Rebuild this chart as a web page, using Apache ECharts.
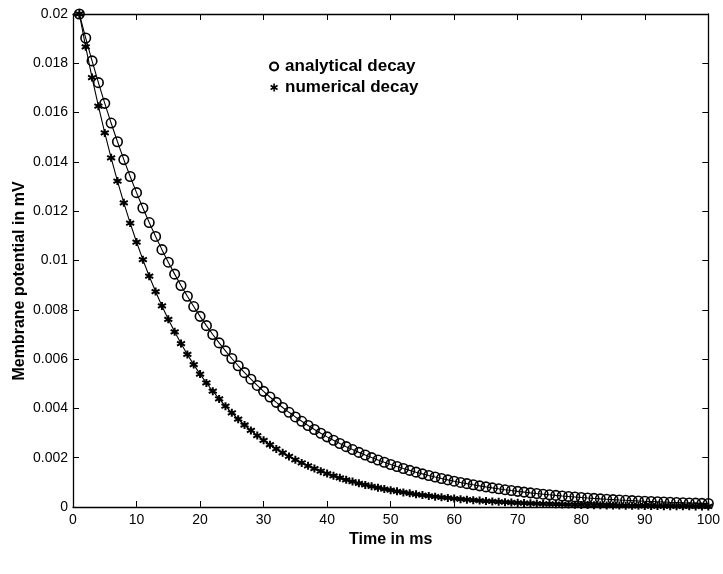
<!DOCTYPE html>
<html>
<head>
<meta charset="utf-8">
<script src="https://cdn.jsdelivr.net/npm/echarts@6/dist/echarts.min.js"></script>
<style>
  html, body { margin: 0; padding: 0; background: #fff; }
  #chart { width: 723px; height: 574px; }
</style>
</head>
<body>
<div id="chart"></div>
<script>
// Time axis, 1..100 ms
const timeMs = Array.from({ length: 100 }, (_, i) => i + 1);

// Membrane potential (mV), closed-form decay
const analytical = [
  0.020000, 0.019025, 0.018097, 0.017214, 0.016375, 0.015576, 0.014816, 0.014093, 0.013406, 0.012752,
  0.012131, 0.011539, 0.010976, 0.010441, 0.009932, 0.009447, 0.008987, 0.008548, 0.008131, 0.007735,
  0.007358, 0.006999, 0.006657, 0.006333, 0.006024, 0.005730, 0.005451, 0.005185, 0.004932, 0.004691,
  0.004463, 0.004245, 0.004038, 0.003841, 0.003654, 0.003476, 0.003306, 0.003145, 0.002991, 0.002845,
  0.002707, 0.002575, 0.002449, 0.002330, 0.002216, 0.002108, 0.002005, 0.001907, 0.001814, 0.001726,
  0.001642, 0.001562, 0.001485, 0.001413, 0.001344, 0.001278, 0.001216, 0.001157, 0.001100, 0.001047,
  0.000996, 0.000947, 0.000901, 0.000857, 0.000815, 0.000775, 0.000738, 0.000702, 0.000667, 0.000635,
  0.000604, 0.000574, 0.000546, 0.000520, 0.000494, 0.000470, 0.000447, 0.000426, 0.000405, 0.000385,
  0.000366, 0.000348, 0.000331, 0.000315, 0.000300, 0.000285, 0.000271, 0.000258, 0.000245, 0.000233,
  0.000222, 0.000211, 0.000201, 0.000191, 0.000182, 0.000173, 0.000165, 0.000157, 0.000149, 0.000142
];

// Membrane potential (mV), step-by-step integration
const numerical = [
  0.020000, 0.018667, 0.017422, 0.016261, 0.015177, 0.014165, 0.013221, 0.012339, 0.011517, 0.010749,
  0.010033, 0.009364, 0.008739, 0.008157, 0.007613, 0.007105, 0.006632, 0.006190, 0.005777, 0.005392,
  0.005033, 0.004697, 0.004384, 0.004092, 0.003819, 0.003564, 0.003327, 0.003105, 0.002898, 0.002705,
  0.002525, 0.002356, 0.002199, 0.002053, 0.001916, 0.001788, 0.001669, 0.001558, 0.001454, 0.001357,
  0.001266, 0.001182, 0.001103, 0.001030, 0.000961, 0.000897, 0.000837, 0.000781, 0.000729, 0.000681,
  0.000635, 0.000593, 0.000553, 0.000516, 0.000482, 0.000450, 0.000420, 0.000392, 0.000366, 0.000341,
  0.000319, 0.000297, 0.000278, 0.000259, 0.000242, 0.000226, 0.000211, 0.000197, 0.000183, 0.000171,
  0.000160, 0.000149, 0.000139, 0.000130, 0.000121, 0.000113, 0.000106, 0.000098, 0.000092, 0.000086,
  0.000080, 0.000075, 0.000070, 0.000065, 0.000061, 0.000057, 0.000053, 0.000049, 0.000046, 0.000043,
  0.000040, 0.000038, 0.000035, 0.000033, 0.000031, 0.000029, 0.000027, 0.000025, 0.000023, 0.000022
];

const seriesNames = ['analytical decay', 'numerical decay'];
const xLabel = 'Time in ms';
const yLabel = 'Membrane potential in mV';

const FONT = 'Liberation Sans, Arial, Helvetica, sans-serif';
const STAR = 'path://M0,-5L0,5M-4.33,-2.5L4.33,2.5M-4.33,2.5L4.33,-2.5';

const chart = echarts.init(document.getElementById('chart'), null, { renderer: 'canvas' });

const baseAxis = {
  axisLine: { show: true, onZero: false, lineStyle: { color: '#000', width: 1.3 } },
  axisTick: { show: true, inside: true, length: 6, lineStyle: { color: '#000', width: 1 } },
  splitLine: { show: false }
};

const xBase = Object.assign({}, baseAxis, { type: 'value', min: 0, max: 100, interval: 10 });
const yBase = Object.assign({}, baseAxis, { type: 'value', min: 0, max: 0.02, interval: 0.002 });

chart.setOption({
  backgroundColor: '#fff',
  animation: false,
  grid: { left: 73, right: 11, top: 14, bottom: 67 },
  legend: {
    left: 264, top: 53, orient: 'vertical', itemGap: 4, itemWidth: 12, itemHeight: 8,
    textStyle: { fontFamily: FONT, fontSize: 17, fontWeight: 'bold', color: '#000' },
    data: [
      { name: seriesNames[0], icon: 'circle', itemStyle: { color: 'rgba(0,0,0,0)', borderColor: '#000', borderWidth: 2.2 } },
      { name: seriesNames[1], icon: STAR, itemStyle: { color: '#000', borderColor: '#000', borderWidth: 1.6 } }
    ]
  },
  graphic: [{
    type: 'text', x: 20, y: 281, rotation: Math.PI / 2,
    style: {
      text: yLabel, fill: '#000', align: 'center', verticalAlign: 'middle',
      font: 'bold 16px ' + FONT
    }
  }],
  xAxis: [
    Object.assign({}, xBase, {
      position: 'bottom',
      name: xLabel, nameLocation: 'middle', nameGap: 22,
      nameTextStyle: { fontFamily: FONT, fontSize: 16, fontWeight: 'bold', color: '#000' },
      axisLabel: { fontFamily: FONT, fontSize: 14, color: '#000', margin: 6 }
    }),
    Object.assign({}, xBase, { position: 'top', axisLabel: { show: false } })
  ],
  yAxis: [
    Object.assign({}, yBase, {
      position: 'left',
      axisLabel: {
        fontFamily: FONT, fontSize: 14, color: '#000', margin: 5,
        formatter: v => String(+v.toFixed(3))
      }
    }),
    Object.assign({}, yBase, { position: 'right', axisLabel: { show: false } })
  ],
  series: [
    {
      name: seriesNames[0], type: 'line',
      data: timeMs.map((t, i) => [t, analytical[i]]),
      symbol: 'circle', symbolSize: 9.5, showAllSymbol: true,
      lineStyle: { color: '#000', width: 1.1 },
      itemStyle: { color: 'rgba(0,0,0,0)', borderColor: '#000', borderWidth: 1.6 },
      z: 3
    },
    {
      name: seriesNames[1], type: 'line',
      data: timeMs.map((t, i) => [t, numerical[i]]),
      symbol: STAR, symbolSize: 8, showAllSymbol: true,
      lineStyle: { color: '#000', width: 1.1 },
      itemStyle: { color: '#000', borderColor: '#000', borderWidth: 2 },
      z: 3
    }
  ]
});
</script>
</body>
</html>
